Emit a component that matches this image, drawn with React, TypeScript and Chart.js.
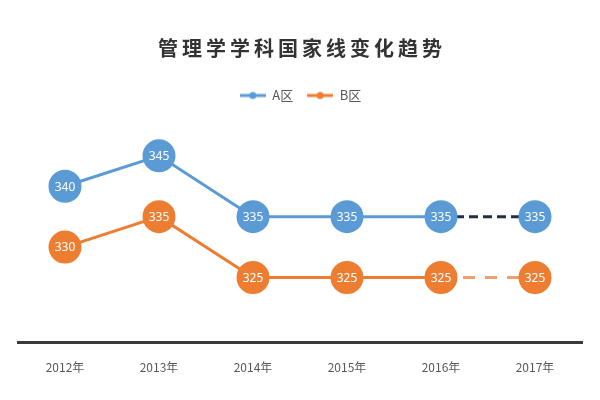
import React, { useEffect, useRef } from "react";
import { Chart, registerables } from "chart.js";

Chart.register(...registerables);

const titleText = "管理学学科国家线变化趋势";
const categories = ["2012年", "2013年", "2014年", "2015年", "2016年", "2017年"];
const seriesA = [340, 345, 335, 335, 335, 335];
const seriesB = [330, 335, 325, 325, 325, 325];
const seriesNames = ["A区", "B区"];

const BLUE = "#5b9bd5";
const ORANGE = "#ed7d31";
const BLUE_DASH = "#1f2f45";
const ORANGE_DASH = "#eea06a";

function legendIcon(color: string): HTMLCanvasElement {
  const c = document.createElement("canvas");
  const dpr = window.devicePixelRatio || 1;
  c.width = 26 * dpr;
  c.height = 10 * dpr;
  c.style.width = "26px";
  c.style.height = "10px";
  const g = c.getContext("2d")!;
  g.scale(dpr, dpr);
  g.strokeStyle = color;
  g.lineWidth = 3;
  g.beginPath();
  g.moveTo(0, 5);
  g.lineTo(26, 5);
  g.stroke();
  g.fillStyle = color;
  g.beginPath();
  g.arc(13, 5, 3.5, 0, Math.PI * 2);
  g.fill();
  return c;
}

const titlePlugin = {
  id: "customTitle",
  afterDraw(chart: any) {
    const ctx = chart.ctx;
    ctx.save();
    ctx.font = "bold 20px 'Noto Sans CJK SC'";
    ctx.fillStyle = "#333333";
    ctx.textAlign = "center";
    ctx.textBaseline = "middle";
    try {
      (ctx as any).letterSpacing = "4px";
    } catch (e) {}
    ctx.fillText(titleText, chart.width / 2 + 2, 48);
    ctx.restore();
  },
};

const valueLabelPlugin = {
  id: "valueLabels",
  afterDatasetsDraw(chart: any) {
    const ctx = chart.ctx;
    ctx.save();
    ctx.font = "12px 'Noto Sans'";
    ctx.fillStyle = "#ffffff";
    ctx.textAlign = "center";
    ctx.textBaseline = "middle";
    chart.data.datasets.forEach((ds: any, di: number) => {
      const meta = chart.getDatasetMeta(di);
      meta.data.forEach((pt: any, i: number) => {
        ctx.fillText(String(ds.data[i]), pt.x, pt.y + 1);
      });
    });
    ctx.restore();
  },
};

export default function App() {
  const ref = useRef<HTMLCanvasElement>(null);
  useEffect(() => {
    document.body.style.margin = "0";
    const last = categories.length - 1;
    const chart = new Chart(ref.current!, {
      type: "line",
      data: {
        labels: categories,
        datasets: [
          {
            label: seriesNames[0],
            data: seriesA,
            borderColor: BLUE,
            backgroundColor: BLUE,
            pointBackgroundColor: BLUE,
            pointBorderColor: BLUE,
            pointRadius: 15,
            pointHoverRadius: 15,
            borderWidth: 3,
            tension: 0,
            clip: false as any,
            segment: {
              borderColor: (c: any) => (c.p1DataIndex === last ? BLUE_DASH : undefined),
              borderDash: (c: any) => (c.p1DataIndex === last ? [9, 5] : undefined),
            },
          },
          {
            label: seriesNames[1],
            data: seriesB,
            borderColor: ORANGE,
            backgroundColor: ORANGE,
            pointBackgroundColor: ORANGE,
            pointBorderColor: ORANGE,
            pointRadius: 15,
            pointHoverRadius: 15,
            borderWidth: 3,
            tension: 0,
            clip: false as any,
            segment: {
              borderColor: (c: any) => (c.p1DataIndex === last ? ORANGE_DASH : undefined),
              borderDash: (c: any) => (c.p1DataIndex === last ? [12, 10] : undefined),
            },
          },
        ],
      },
      options: {
        animation: false,
        responsive: false,
        layout: { padding: { top: 75, left: 18, right: 17, bottom: 7 } },
        plugins: {
          title: { display: false },
          tooltip: { enabled: false },
          legend: {
            display: true,
            position: "top",
            labels: {
              usePointStyle: true,
              pointStyleWidth: 26,
              color: "#595959",
              font: { size: 13, family: "'Noto Sans CJK SC'" },
              padding: 14,
              boxHeight: 10,
              generateLabels: () => [
                {
                  text: seriesNames[0],
                  pointStyle: legendIcon(BLUE),
                  fillStyle: BLUE,
                  strokeStyle: BLUE,
                  lineWidth: 0,
                  hidden: false,
                  datasetIndex: 0,
                  fontColor: "#595959",
                } as any,
                {
                  text: seriesNames[1],
                  pointStyle: legendIcon(ORANGE),
                  fillStyle: ORANGE,
                  strokeStyle: ORANGE,
                  lineWidth: 0,
                  hidden: false,
                  datasetIndex: 1,
                  fontColor: "#595959",
                } as any,
              ],
            },
          },
        },
        scales: {
          x: {
            offset: true,
            grid: { display: false, drawTicks: false },
            border: { display: true, color: "#3a3a3a", width: 3 },
            ticks: {
              color: "#595959",
              font: { size: 12, family: "'Noto Sans CJK SC'" },
              padding: 18,
            },
          },
          y: {
            display: false,
            min: 314.3,
            max: 352.2,
          },
        },
      },
      plugins: [titlePlugin, valueLabelPlugin],
    });
    return () => chart.destroy();
  }, []);
  return (
    <div style={{ width: 600, height: 400, background: "#fff" }}>
      <canvas ref={ref} width={600} height={400} style={{ width: 600, height: 400 }} />
    </div>
  );
}
